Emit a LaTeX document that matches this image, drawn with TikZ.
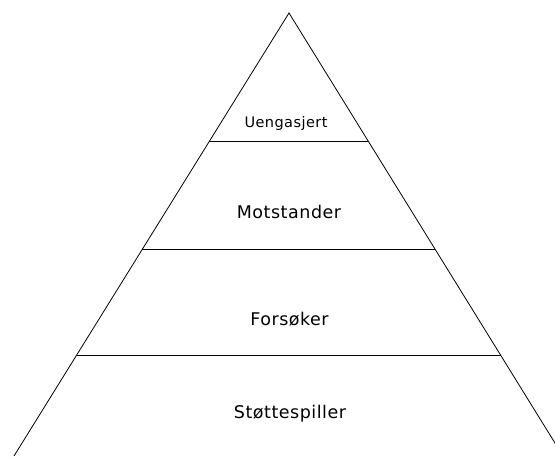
\documentclass[tikz,border=0pt]{standalone}
\usepackage{fontspec}
\newfontfamily\lblfont[LetterSpace=3]{DejaVu Sans}
\usepackage{tikz}
\usetikzlibrary{calc}

\begin{document}
\begin{tikzpicture}[
    x=1pt, y=-1pt,
    side/.style={draw, line width=0.8pt},
    level/.style={draw, line width=1pt},
    lbl/.style={anchor=base, inner sep=0pt, font=\lblfont\fontsize{#1}{#1}\selectfont}
]
\useasboundingbox (0,0) rectangle (555,456);
\clip (0,0) rectangle (555,456);

% pyramid corners
\coordinate (apex) at (289,13);
\coordinate (baseL) at (14,456);
\coordinate (baseR) at (563,456);

\draw[side] (baseL) -- (apex) -- (baseR);

% level lines
\coordinate (l1a) at ($(apex)!0.291!(baseL)$);
\coordinate (l1b) at ($(apex)!0.291!(baseR)$);
\coordinate (l2a) at ($(apex)!0.533!(baseL)$);
\coordinate (l2b) at ($(apex)!0.533!(baseR)$);
\coordinate (l3a) at ($(apex)!0.772!(baseL)$);
\coordinate (l3b) at ($(apex)!0.772!(baseR)$);
\draw[level] (l1a) -- (l1b);
\draw[level] (l2a) -- (l2b);
\draw[level] (l3a) -- (l3b);

\node[lbl=14.5] (uengasjert) at (286,127) {Uengasjert};
\node[lbl=17.5] (motstander) at (289,218) {Motstander};
\node[lbl=17.5] (forsoker) at (289.5,325) {Forsøker};
\node[lbl=17.5] (stottespiller) at (290,418) {Støttespiller};
\end{tikzpicture}
\end{document}
